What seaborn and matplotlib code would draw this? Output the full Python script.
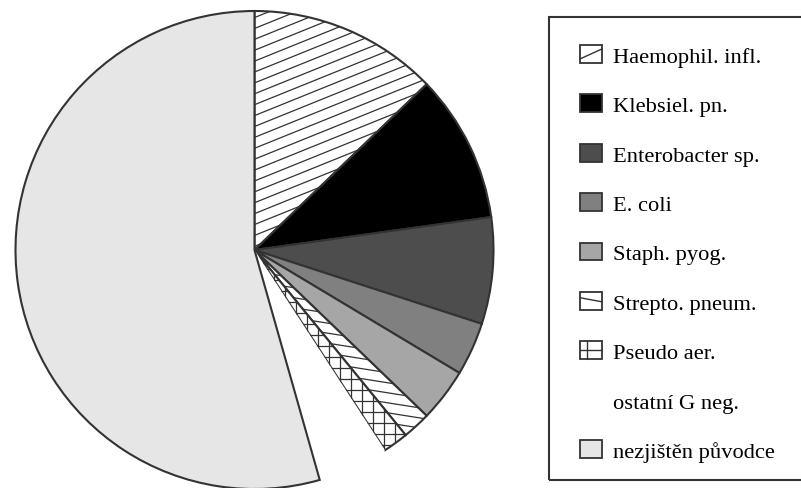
import numpy as np
import matplotlib
matplotlib.use("Agg")
import matplotlib.pyplot as plt
import seaborn as sns
from matplotlib.collections import LineCollection
from matplotlib.patches import Rectangle
from matplotlib.lines import Line2D
from matplotlib.legend_handler import HandlerPatch

sns.set_theme(style="white")
plt.rcParams['font.family'] = ['Liberation Serif', 'DejaVu Serif']

# share of cases by causative agent (%)
labels = ["Haemophil. infl.", "Klebsiel. pn.", "Enterobacter sp.", "E. coli",
          "Staph. pyog.", "Strepto. pneum.", "Pseudo aer.", "ostatní G neg.",
          "nezjištěn původce"]
shares = [12.8, 10.0, 7.2, 3.6, 3.6, 1.9, 1.7, 4.8, 54.4]

fills = ["white", "#000000", "#4d4d4d", "#808080", "#a6a6a6",
         "white", "white", "white", "#e6e6e6"]
patterns = ["diag", None, None, None, None, "flat", "grid", None, None]

EDGE = "#333333"
W, H = 801, 489
CX, CY, R = 254.5, 238.0, 239.0

fig = plt.figure(figsize=(W / 100, H / 100), dpi=100)
ax = fig.add_axes([0, 0, 1, 1])

wedges, _ = ax.pie(shares, colors=fills, startangle=90, counterclock=False,
                   center=(CX, CY), radius=R, frame=False,
                   wedgeprops=dict(edgecolor=EDGE, linewidth=1.5))
# "ostatní G neg." is left blank
wedges[7].set_edgecolor("none")
wedges[7].set_facecolor("white")


def add_hatch(wedge, angle, spacing):
    th = np.deg2rad(angle)
    d = np.array([np.cos(th), np.sin(th)])
    n = np.array([-np.sin(th), np.cos(th)])
    c0 = np.array([CX, CY])
    segs = [[c0 + c * n - R * d, c0 + c * n + R * d]
            for c in np.arange(-R, R + spacing, spacing)]
    lc = LineCollection(segs, colors=EDGE, linewidths=0.9, zorder=3)
    ax.add_collection(lc)
    lc.set_clip_path(wedge)


for w, p in zip(wedges, patterns):
    if p == "diag":
        add_hatch(w, 22, 10.1)
    elif p == "flat":
        add_hatch(w, -9, 9.9)
    elif p == "grid":
        add_hatch(w, 0, 11)
        add_hatch(w, 90, 11)

ax.set_xlim(0, W)
ax.set_ylim(0, H)
ax.set_aspect("equal")
ax.axis("off")


class Swatch(HandlerPatch):
    def __init__(self, style=None):
        super().__init__()
        self.style = style

    def create_artists(self, legend, orig_handle, xdescent, ydescent,
                       width, height, fontsize, trans):
        x0, y0 = -xdescent, -ydescent
        arts = [Rectangle((x0, y0), width, height,
                          facecolor=orig_handle.get_facecolor(),
                          edgecolor=orig_handle.get_edgecolor(),
                          linewidth=1.3, transform=trans)]
        lk = dict(color=EDGE, linewidth=1.0, transform=trans)
        if self.style == "diag":
            arts.append(Line2D([x0, x0 + width],
                               [y0 + 0.22 * height, y0 + 0.78 * height], **lk))
        elif self.style == "flat":
            arts.append(Line2D([x0, x0 + width],
                               [y0 + 0.68 * height, y0 + 0.45 * height], **lk))
        elif self.style == "grid":
            arts.append(Line2D([x0 + 0.33 * width] * 2, [y0, y0 + height], **lk))
            arts.append(Line2D([x0, x0 + width], [y0 + 0.5 * height] * 2, **lk))
        return arts


handles = []
hmap = {}
for lab, fc, p in zip(labels, fills, patterns):
    ec = "none" if lab == "ostatní G neg." else EDGE
    h = Rectangle((0, 0), 1, 1, facecolor=fc, edgecolor=ec, label=lab)
    handles.append(h)
    hmap[h] = Swatch(p)

fs_px = 22.5
leg = ax.legend(handles=handles, handler_map=hmap, loc="upper left",
                bbox_to_anchor=(580, H - 46), bbox_transform=ax.transData,
                frameon=False, fontsize=fs_px * 0.72, borderpad=0,
                borderaxespad=0, handlelength=22 / fs_px,
                handleheight=19 / fs_px, handletextpad=11 / fs_px,
                labelspacing=1.23)
for t in leg.get_texts():
    t.set_color("black")

ax.add_patch(Rectangle((549, H - 481), 300, 463, facecolor="none",
                       edgecolor=EDGE, linewidth=1.5, zorder=0))

fig.savefig("out.png", dpi=100)
